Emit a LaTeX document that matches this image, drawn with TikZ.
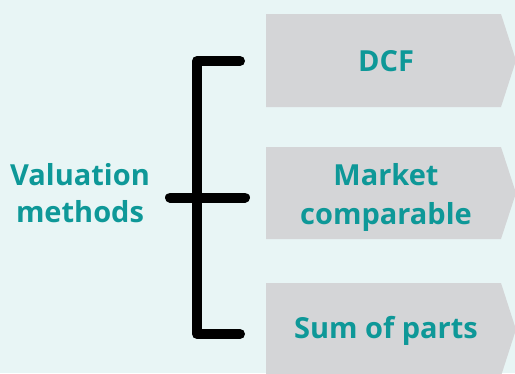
\documentclass[tikz,border=0pt]{standalone}
\usepackage{fontspec}
\setmainfont{Open Sans}
\definecolor{pagebg}{HTML}{E8F5F5}
\definecolor{tabgray}{HTML}{D4D5D7}
\definecolor{headteal}{HTML}{0E9898}
\begin{document}
\begin{tikzpicture}[x=1pt,y=-1pt,
  txt/.style={font=\bfseries\fontsize{29}{38}\selectfont, text=headteal, align=center, inner sep=0pt},
  tab/.style={fill=tabgray},
  brace/.style={line width=10pt, line cap=round, line join=round, draw=black}]
  % page area
  \useasboundingbox (0,0) rectangle (515,373);
  \fill[pagebg] (0,0) rectangle (515,373);
  \clip (0,0) rectangle (515,373);
  % arrow-shaped tabs
  \foreach \t/\b in {14/107,147/239,283/376}
    \fill[tab] (266,\t) -- (501,\t) -- (516,{(\t+\b)/2}) -- (501,\b) -- (266,\b) -- cycle;
  % labels
  \node[txt] (dcf) at (386,61) {DCF};
  \node[txt, font=\bfseries\fontsize{29}{39}\selectfont] (mkt) at (386,197) {Market\\comparable};
  \node[txt] (sop) at (386,331) {Sum of parts};
  \node[txt, font=\bfseries\fontsize{29}{37}\selectfont] (val) at (80,193.5) {Valuation\\methods};
  % bracket
  \coordinate (armtop) at (240,61);
  \coordinate (armbot) at (240,334);
  \coordinate (stemin) at (170,197.5);
  \coordinate (armmid) at (245,197.5);
  \draw[brace] (armtop) -- (197,61) -- (197,334) -- (armbot);
  \draw[brace] (stemin) -- (armmid);
\end{tikzpicture}
\end{document}
